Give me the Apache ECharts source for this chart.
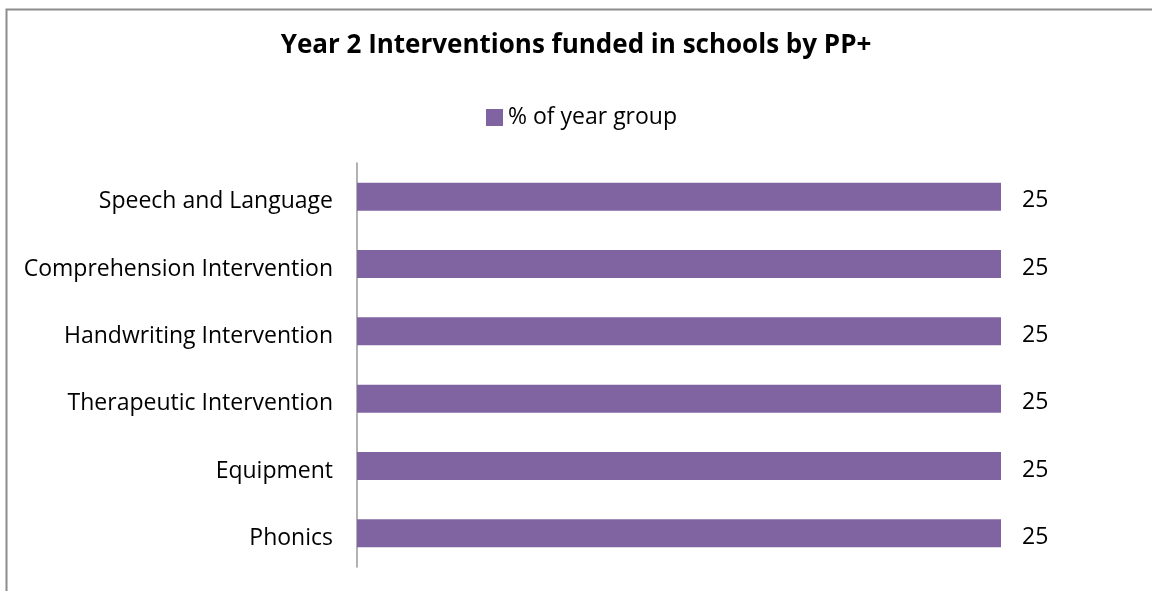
<!DOCTYPE html>
<html lang="en" style="height: 100%">
<head>
  <meta charset="utf-8">
</head>
<body style="height: 100%; margin: 0">
  <div id="container" style="width: 1152px; height: 591px"></div>

  <script type="text/javascript" src="https://fastly.jsdelivr.net/npm/echarts@6/dist/echarts.min.js"></script>
  <script type="text/javascript">
    // categories listed top to bottom as they appear
    var categories = [
      'Speech and Language',
      'Comprehension Intervention',
      'Handwriting Intervention',
      'Therapeutic Intervention',
      'Equipment',
      'Phonics'
    ];
    var percentOfYearGroup = [25, 25, 25, 25, 25, 25];
    var seriesName = '% of year group';

    var FONT = 'Open Sans';
    var myChart = echarts.init(document.getElementById('container'), null, { renderer: 'canvas' });

    // text sits a little below the bar centre in the original
    var lowered = {
      t: { padding: [10, 0, 0, 0], fontFamily: FONT, fontSize: 23, color: '#000' }
    };

    var option = {
      backgroundColor: '#fff',
      animation: false,
      title: {
        text: 'Year 2 Interventions funded in schools by PP+',
        left: 'center',
        top: 28,
        textStyle: { fontFamily: FONT, fontSize: 26, fontWeight: 'bold', color: '#000' }
      },
      legend: {
        data: [seriesName],
        top: 101,
        left: 481,
        icon: 'rect',
        itemWidth: 17,
        itemHeight: 17,
        textStyle: { fontFamily: FONT, fontSize: 23, color: '#000' }
      },
      graphic: [{
        type: 'rect',
        shape: { x: 6.5, y: 9.5, width: 1300, height: 800 },
        style: { fill: null, stroke: '#8c8c8c', lineWidth: 2 },
        silent: true
      }],
      grid: { left: 357, top: 163, right: 151, bottom: 24, containLabel: false },
      xAxis: {
        type: 'value',
        min: 0,
        max: 25,
        show: false
      },
      yAxis: {
        type: 'category',
        data: categories,
        inverse: true,
        axisLine: { show: true, lineStyle: { color: '#999', width: 1.5 } },
        axisTick: { show: false },
        axisLabel: {
          margin: 24,
          formatter: '{t|{value}}',
          rich: lowered
        }
      },
      series: [{
        name: seriesName,
        type: 'bar',
        data: percentOfYearGroup,
        barWidth: 28,
        itemStyle: { color: '#8064A2' },
        label: {
          show: true,
          position: 'right',
          distance: 21,
          offset: [0, 4],
          fontFamily: FONT,
          fontSize: 23,
          color: '#000'
        }
      }]
    };

    myChart.setOption(option);
    window.addEventListener('resize', myChart.resize);
  </script>
</body>
</html>
